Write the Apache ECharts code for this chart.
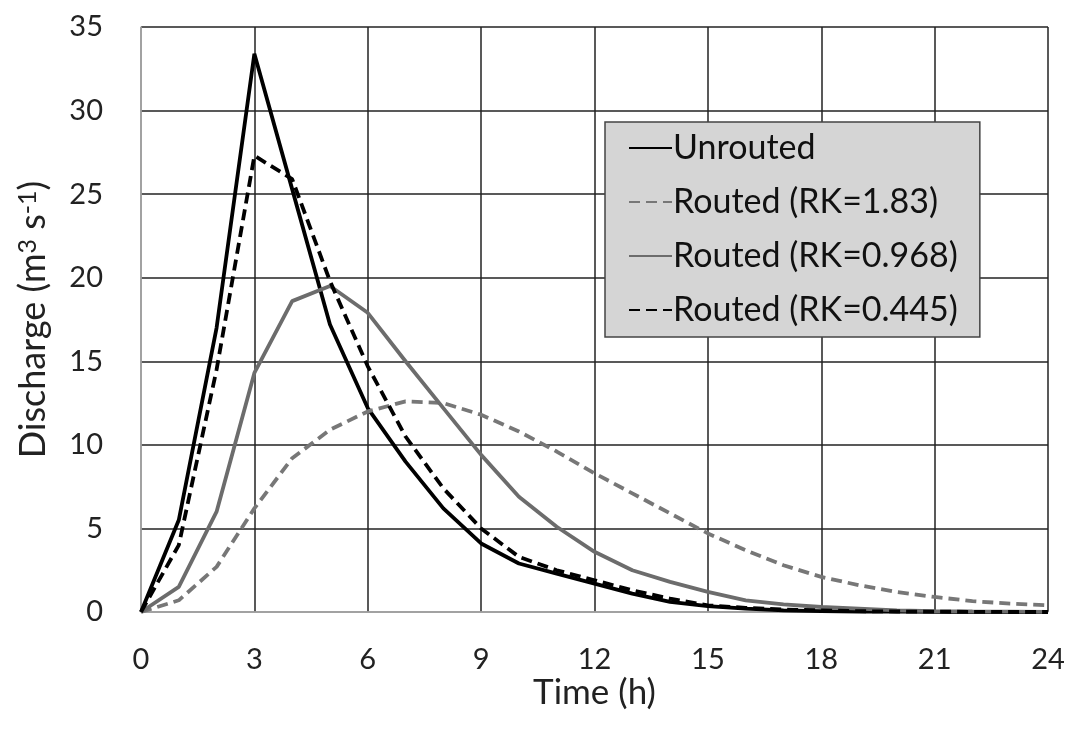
<!DOCTYPE html>
<html>
<head>
<meta charset="utf-8">
<script src="https://cdn.jsdelivr.net/npm/echarts@6/dist/echarts.min.js"></script>
<style>
  html, body { margin: 0; padding: 0; background: #fff; }
  #main { width: 1072px; height: 731px; }
</style>
</head>
<body>
<div id="main"></div>
<script>
// hourly values
const hours = [0, 1, 2, 3, 4, 5, 6, 7, 8, 9, 10, 11, 12, 13, 14, 15, 16, 17, 18, 19, 20, 21, 22, 23, 24];
const unrouted = [0, 5.5, 17, 33.4, 25.3, 17.2, 12.2, 9, 6.2, 4.1, 2.9, 2.3, 1.7, 1.1, 0.6, 0.35, 0.2, 0.1, 0.05, 0.03, 0.02, 0.01, 0, 0, 0];
const routed183 = [0, 0.7, 2.7, 6.2, 9.2, 10.9, 12.0, 12.6, 12.5, 11.8, 10.8, 9.6, 8.3, 7.1, 5.9, 4.7, 3.7, 2.8, 2.1, 1.6, 1.2, 0.9, 0.65, 0.5, 0.4];
const routed0968 = [0, 1.5, 6, 14.3, 18.6, 19.5, 17.9, 15, 12.2, 9.4, 6.9, 5.1, 3.6, 2.5, 1.8, 1.2, 0.7, 0.45, 0.3, 0.2, 0.1, 0.05, 0.03, 0.02, 0.01];
const routed0445 = [0, 4, 14.5, 27.3, 25.9, 19.8, 14.7, 10.5, 7.4, 5.0, 3.3, 2.5, 1.9, 1.3, 0.8, 0.4, 0.25, 0.15, 0.1, 0.05, 0.03, 0.02, 0.01, 0, 0];
const seriesNames = ['Unrouted', 'Routed (RK=1.83)', 'Routed (RK=0.968)', 'Routed (RK=0.445)'];

const font = 'Lato';
const chart = echarts.init(document.getElementById('main'));

function pairs(vals) {
  return hours.map((h, i) => [h, vals[i]]);
}

function lineSeries(name, vals, color, dashed) {
  return {
    name: name,
    type: 'line',
    data: pairs(vals),
    symbol: 'none',
    smooth: false,
    lineStyle: {
      color: color,
      width: 3.8,
      type: dashed ? [11, 6] : 'solid'
    },
    itemStyle: { color: color }
  };
}

const option = {
  backgroundColor: '#fff',
  animation: false,
  grid: { left: 141, right: 24, top: 27, bottom: 119 },
  legend: {
    orient: 'vertical',
    left: 605,
    top: 122,
    data: seriesNames,
    backgroundColor: '#d5d5d5',
    borderColor: '#444',
    borderWidth: 1.5,
    padding: [9, 22, 10, 23],
    itemWidth: 43,
    itemHeight: 14,
    itemGap: 20,
    selectedMode: false,
    itemStyle: { opacity: 0, borderWidth: 0 },
    textStyle: { fontFamily: font, fontSize: 34, color: '#111', padding: [0, 0, 0, -4] }
  },
  xAxis: {
    type: 'value',
    min: 0,
    max: 24,
    interval: 3,
    name: 'Time (h)',
    nameLocation: 'middle',
    nameGap: 63,
    nameMoveOverlap: false,
    nameTextStyle: { fontFamily: font, fontSize: 35, color: '#222' },
    axisLine: { show: true, lineStyle: { color: '#bbb', width: 1.5 } },
    axisTick: { show: false },
    axisLabel: { fontFamily: font, fontSize: 29, color: '#222', margin: 33 },
    splitLine: { show: true, lineStyle: { color: '#222', width: 1.5 } }
  },
  yAxis: {
    type: 'value',
    min: 0,
    max: 35,
    interval: 5,
    name: 'Discharge (m{sup|3} s{sup|-1})',
    nameLocation: 'middle',
    nameGap: 90,
    nameMoveOverlap: false,
    nameRotate: 90,
    nameTextStyle: {
      fontFamily: font,
      fontSize: 36,
      color: '#222',
      rich: {
        sup: { fontFamily: font, fontSize: 25, color: '#222', verticalAlign: 'top', lineHeight: 36 }
      }
    },
    axisLine: { show: true, lineStyle: { color: '#bbb', width: 1.5 } },
    axisTick: { show: false },
    axisLabel: { fontFamily: font, fontSize: 29, color: '#222', margin: 38 },
    splitLine: { show: true, lineStyle: { color: '#222', width: 1.5 } }
  },
  series: [
    lineSeries(seriesNames[0], unrouted, '#000', false),
    lineSeries(seriesNames[1], routed183, '#777', true),
    lineSeries(seriesNames[2], routed0968, '#6c6c6c', false),
    lineSeries(seriesNames[3], routed0445, '#000', true)
  ]
};

chart.setOption(option);
</script>
</body>
</html>
